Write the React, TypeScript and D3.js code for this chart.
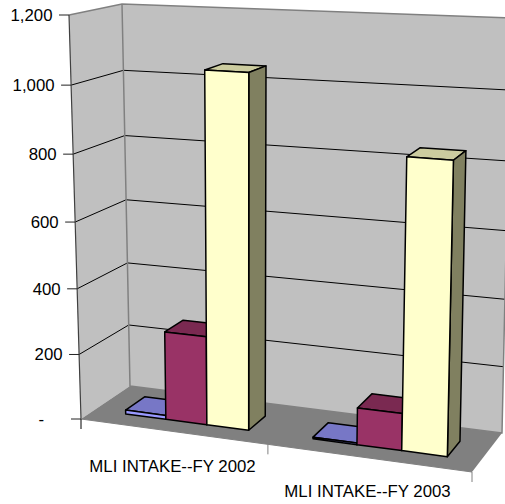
import React from "react";
import * as d3 from "d3";

const categories = ["MLI INTAKE--FY 2002", "MLI INTAKE--FY 2003"];
const seriesA = [12, 5];
const seriesB = [270, 110];
const seriesC = [1052, 845];
const valueTicks = [0, 200, 400, 600, 800, 1000, 1200];

const W = 505, H = 504;
// projection corners [x, y]
const FBL = [81, 419], FBR = [472, 472], BBL = [130, 386], BBR = [502, 433];
const FTL = [69, 15], FTR = [482, 36], BTL = [122, 4], BTR = [511, 18];

const lerp = (a: number, b: number, t: number) => a + (b - a) * t;
const warp = (t: number, k: number) => t - k * t * (1 - t);
const yScale = d3.scaleLinear().domain([0, 1200]).range([0, 1]);
const project = (t: number, depth: number, value: number): [number, number] => {
  const y = yScale(value);
  const u = warp(t, lerp(0.088, 0.06, y));
  const v = warp(y, 0.05);
  const out = [0, 1].map((i) => {
    const fb = lerp(FBL[i], FBR[i], u), bb = lerp(BBL[i], BBR[i], u);
    const ft = lerp(FTL[i], FTR[i], u), bt = lerp(BTL[i], BTR[i], u);
    return lerp(lerp(fb, bb, depth), lerp(ft, bt, depth), v);
  });
  return [out[0], out[1]];
};
const line = d3.line();
const poly = (pts: [number, number][]) => line(pts) + "Z";

const cat = d3.scaleBand().domain(categories).range([0.004, 1.004]).paddingInner(1 / 3).paddingOuter(1 / 6);
const seriesList = [
  { name: "a", values: seriesA, front: "#9999ff", top: "#7777c6", side: "#666699" },
  { name: "b", values: seriesB, front: "#993366", top: "#7a2951", side: "#5c1f3d" },
  { name: "c", values: seriesC, front: "#ffffcc", top: "#cccc9f", side: "#808060" },
];
const sub = d3.scaleBand().domain(seriesList.map((s) => s.name)).range([0, cat.bandwidth()]);
const dF = 0.28, dB = 0.68;
const fmt = (v: number) => (v === 0 ? "-" : d3.format(",")(v));

export default function App() {
  const font = "'Liberation Sans', Arial, sans-serif";
  return (
    <svg width={W} height={H} viewBox={`0 0 ${W} ${H}`} style={{ position: "fixed", left: 0, top: 0, background: "#fff" }}>
      <path d={poly([project(0, 0, 0), project(0, 1, 0), project(0, 1, 1200), project(0, 0, 1200)])} fill="#c0c0c0" />
      <path d={poly([project(0, 1, 0), project(1, 1, 0), project(1, 1, 1200), project(0, 1, 1200)])} fill="#c0c0c0" />
      {valueTicks.slice(1, -1).map((v) => (
        <path key={v} d={line([project(0, 0, v), project(0, 1, v), project(1, 1, v)]) || ""} fill="none" stroke="#000" strokeWidth={1} />
      ))}
      <path d={poly([project(0, 0, 0), project(1, 0, 0), project(1, 1, 0), project(0, 1, 0)])} fill="#808080" />
      <path
        d={line([project(0, 0, 1200), project(0, 1, 1200), project(1, 1, 1200), project(1, 1, 0), project(0, 1, 0), project(0, 1, 1200)]) || ""}
        fill="none" stroke="#808080" strokeWidth={1.5}
      />
      <path d={line([project(0, 0, 0), project(0, 0, 1200)]) || ""} fill="none" stroke="#404040" strokeWidth={1.2} />
      <path d={line([project(0, 0, 0), project(1, 0, 0)]) || ""} fill="none" stroke="#808080" strokeWidth={1} />
      {valueTicks.map((v) => {
        const p = project(0, 0, v);
        return <path key={v} d={`M${p[0] - 10},${p[1]}H${p[0]}`} stroke="#222" strokeWidth={1} />;
      })}
      {[0, 0.5, 1].map((t) => {
        const p = project(t, 0, 0);
        return <path key={t} d={`M${p[0]},${p[1]}V${p[1] + 10}`} stroke={t === 0 ? "#000" : "#808080"} strokeWidth={1} />;
      })}
      {categories.map((c, ci) =>
        seriesList.map((s) => {
          const t0 = (cat(c) as number) + (sub(s.name) as number);
          const t1 = t0 + sub.bandwidth();
          const v = s.values[ci];
          const a = project(t0, dF, 0), b = project(t1, dF, 0), c1 = project(t1, dF, v), d = project(t0, dF, v);
          const e = project(t1, dB, 0), f = project(t1, dB, v), g = project(t0, dB, v);
          return (
            <g key={c + s.name} stroke="#000" strokeWidth={1.5} strokeLinejoin="round">
              <path d={poly([d, c1, f, g])} fill={s.top} />
              <path d={poly([b, e, f, c1])} fill={s.side} />
              <path d={poly([a, b, c1, d])} fill={s.front} />
            </g>
          );
        })
      )}
      {valueTicks.map((v) => {
        const p = project(0, 0, v);
        return (
          <text key={v} x={p[0] - (v === 0 ? 37 : 16.5)} y={p[1] + 0.5} textAnchor="end" dominantBaseline="central" fontFamily={font} fontSize={16.8}>
            {fmt(v)}
          </text>
        );
      })}
      <text x={172.5} y={466} textAnchor="middle" dominantBaseline="central" fontFamily={font} fontSize={16.8} fill="#000">{categories[0]}</text>
      <text x={367.5} y={491} textAnchor="middle" dominantBaseline="central" fontFamily={font} fontSize={16.8} fill="#000">{categories[1]}</text>
    </svg>
  );
}
